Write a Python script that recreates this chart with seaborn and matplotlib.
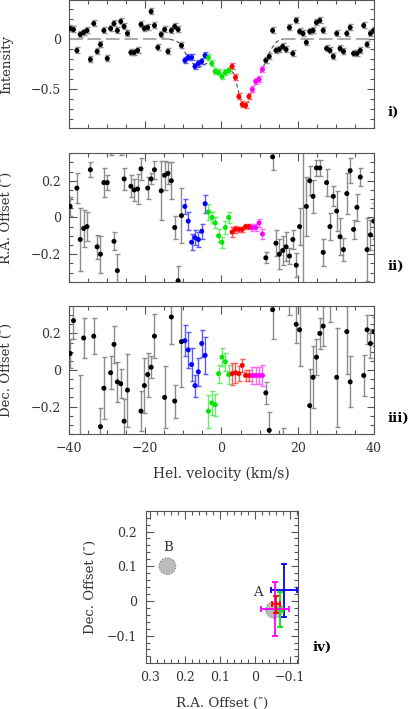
import numpy as np
import pandas as pd
import seaborn as sns
import matplotlib
matplotlib.use("Agg")
import matplotlib.pyplot as plt
from matplotlib.ticker import MultipleLocator, FuncFormatter
from matplotlib.patches import Circle

nan = np.nan

# velocity channels (km/s)
vel = [-39.70, -38.82, -37.93, -37.05, -36.16, -35.28, -34.39, -33.51, -32.62, -31.74,
       -30.85, -29.97, -29.08, -28.20, -27.31, -26.43, -25.54, -24.66, -23.77, -22.89,
       -22.00, -21.12, -20.23, -19.35, -18.46, -17.58, -16.69, -15.81, -14.92, -14.04,
       -13.15, -12.27, -11.38, -10.50, -9.61, -8.73, -7.84, -6.96, -6.07, -5.19,
       -4.30, -3.42, -2.53, -1.65, -0.76, 0.13, 1.01, 1.90, 2.78, 3.67,
       4.55, 5.44, 6.32, 7.21, 8.09, 8.98, 9.86, 10.75, 11.63, 12.52,
       13.40, 14.29, 15.17, 16.06, 16.94, 17.83, 18.71, 19.60, 20.48, 21.37,
       22.25, 23.14, 24.02, 24.91, 25.79, 26.68, 27.56, 28.45, 29.33, 30.22,
       31.10, 31.99, 32.87, 33.76, 34.64, 35.53, 36.41, 37.30, 38.18, 39.07,
       39.95]

# velocity component of each channel
comp = ['bg'] * 34 + ['b'] * 7 + ['g'] * 7 + ['r'] * 6 + ['m'] * 4 + ['bg'] * 33

intensity = [0.11, 0.10, -0.11, 0.05, 0.07, 0.09, -0.20, 0.16, -0.12, -0.05,
             0.09, -0.19, 0.11, 0.16, 0.09, 0.18, 0.13, 0.06, -0.13, -0.13,
             -0.11, 0.15, 0.11, 0.12, 0.28, 0.14, -0.08, 0.05, 0.10, -0.12,
             0.09, 0.13, 0.10, -0.06, -0.21, -0.18, -0.18, -0.27, -0.24, -0.22,
             -0.16, -0.18, -0.24, -0.32, -0.33, -0.37, -0.33, -0.31, -0.27, -0.38,
             -0.57, -0.65, -0.66, -0.57, -0.50, -0.42, -0.40, -0.30, -0.21, -0.17,
             0.09, -0.11, -0.10, -0.07, -0.10, 0.12, -0.14, 0.19, 0.08, 0.06,
             -0.03, 0.08, 0.09, 0.17, 0.19, 0.09, -0.09, -0.11, -0.17, 0.06,
             -0.09, -0.12, 0.06, 0.12, -0.14, -0.14, -0.11, 0.14, -0.05, 0.06,
             0.09]
intensity_err = [0.03] * 91

ra_off = [0.06, nan, 0.16, -0.12, -0.06, -0.05, 0.26, nan, -0.16, -0.20,
          0.19, 0.19, 0.42, -0.13, -0.29, 0.41, 0.21, nan, 0.17, 0.15,
          0.155, 0.265, nan, 0.16, 0.21, 0.26, nan, 0.145, 0.23, 0.24,
          0.20, -0.055, -0.345, 0.01, 0.06, -0.02, -0.135, -0.11, -0.12, -0.075,
          0.075, 0.03, 0.0, -0.03, -0.10, -0.135, -0.055, 0.0, -0.08, -0.065,
          -0.065, -0.065, -0.05, -0.05, -0.055, -0.055, -0.03, -0.09, -0.22, nan,
          0.33, -0.14, -0.20, -0.18, -0.16, -0.21, -0.12, -0.26, -0.05, 0.5,
          0.06, 0.20, 0.115, 0.27, 0.27, -0.19, 0.19, -0.05, 0.115, 0.035,
          -0.105, -0.175, 0.13, 0.255, -0.065, 0.055, 0.22, nan, -0.175, -0.095,
          -0.02]
ra_err = [0.05, nan, 0.08, 0.17, 0.10, 0.08, 0.04, nan, 0.065, 0.10,
          0.08, 0.04, 0.08, 0.05, 0.09, 0.07, 0.06, nan, 0.06, 0.06,
          0.08, 0.06, nan, 0.06, 0.03, 0.05, nan, 0.16, 0.08, 0.06,
          0.10, 0.065, 0.08, 0.15, 0.04, 0.05, 0.045, 0.04, 0.04, 0.04,
          0.05, 0.045, 0.03, 0.03, 0.035, 0.03, 0.035, 0.028, 0.028, 0.02,
          0.015, 0.015, 0.015, 0.015, 0.02, 0.02, 0.02, 0.025, 0.03, nan,
          0.07, 0.07, 0.08, 0.08, 0.08, 0.045, 0.05, 0.065, 0.10, 0.9,
          0.16, 0.08, 0.09, 0.045, 0.045, 0.075, 0.075, 0.075, 0.055, 0.11,
          0.10, 0.065, 0.11, 0.07, 0.05, 0.075, 0.05, nan, 0.17, 0.08,
          0.10]

dec_off = [0.09, 0.27, nan, -0.40, 0.175, nan, nan, 0.185, nan, -0.31,
           -0.10, nan, -0.015, 0.14, -0.065, -0.075, -0.28, -0.11, nan, nan,
           nan, -0.225, -0.085, -0.025, 0.015, 0.185, nan, nan, -0.15, nan,
           0.29, -0.17, nan, 0.155, 0.16, 0.11, 0.03, -0.085, -0.01, 0.145,
           0.08, -0.225, -0.18, -0.19, -0.02, 0.07, 0.045, -0.025, -0.02, -0.015,
           -0.02, 0.025, -0.03, -0.03, -0.03, -0.03, -0.03, -0.03, -0.125, -0.33,
           0.33, -0.45, nan, -0.42, nan, 0.45, nan, 0.25, 0.22, nan,
           nan, -0.195, -0.04, 0.07, 0.20, 0.24, nan, 0.50, nan, -0.04,
           nan, nan, 0.21, -0.065, nan, nan, nan, -0.03, 0.22, 0.145,
           0.21]
dec_err = [0.08, 0.10, nan, 0.37, 0.11, nan, nan, 0.10, nan, 0.10,
           0.17, nan, 0.09, 0.10, 0.11, 0.08, 0.12, 0.20, nan, nan,
           nan, 0.11, 0.15, 0.12, 0.06, 0.12, nan, nan, 0.17, nan,
           0.15, 0.09, nan, 0.25, 0.085, 0.10, 0.09, 0.06, 0.075, 0.075,
           0.10, 0.09, 0.065, 0.06, 0.05, 0.05, 0.05, 0.05, 0.06, 0.055,
           0.04, 0.035, 0.03, 0.03, 0.045, 0.045, 0.045, 0.055, 0.06, 0.10,
           0.16, 0.10, nan, 0.10, nan, 0.15, nan, 0.10, 0.20, nan,
           nan, 0.20, 0.17, 0.10, 0.085, 0.11, nan, 0.24, nan, 0.27,
           nan, nan, 0.23, 0.14, nan, nan, nan, 0.11, 0.08, 0.08,
           0.08]

# fitted absorption profile
model_vel = [-13.5, -12, -11, -10, -9, -8, -7, -6, -5, -4, -3, -2, -1, 0, 1, 2,
             3, 4, 5, 6, 7, 8, 9, 10, 11, 12, 13, 14, 15, 16]
model_int = [0, -0.01, -0.04, -0.10, -0.17, -0.22, -0.26, -0.28, -0.27, -0.24,
             -0.24, -0.28, -0.32, -0.34, -0.33, -0.30, -0.33, -0.45, -0.60, -0.67,
             -0.62, -0.52, -0.43, -0.35, -0.27, -0.18, -0.10, -0.04, -0.01, 0]
cont_left = [-40, -13.5]
cont_right = [16, 40]

# mean positions of the components (panel iv)
comp_names = ['b', 'g', 'm', 'r']
comp_ra = [-0.083, -0.072, -0.057, -0.060]
comp_dec = [0.030, -0.025, -0.024, -0.010]
comp_ra_err = [0.037, 0.008, 0.039, 0.011]
comp_dec_err = [0.075, 0.050, 0.078, 0.024]
star_names = ['A', 'B']
star_ra = [-0.055, 0.250]
star_dec = [-0.026, 0.100]
star_label_ra = [-0.009, 0.249]
star_label_dec = [0.024, 0.153]

palette = {'bg': 'black', 'b': '#0000ff', 'g': '#00e600', 'r': '#ff0000', 'm': '#ff00ff'}
err_colors = {'bg': '#8c8c8c', 'b': '#5a5aff', 'g': '#66ee66', 'r': '#ff5a5a', 'm': '#ff66ff'}

df = pd.DataFrame({'vel': vel, 'comp': comp, 'intensity': intensity,
                   'intensity_err': intensity_err, 'ra': ra_off, 'ra_err': ra_err,
                   'dec': dec_off, 'dec_err': dec_err})

sns.set_theme(style="ticks")
plt.rcParams['font.family'] = ['DejaVu Serif', 'DejaVu Sans']
plt.rcParams['font.size'] = 9
plt.rcParams['text.color'] = '#333333'
plt.rcParams['axes.labelcolor'] = '#333333'

frame_col = '#555555'


def tick_fmt(x, pos):
    s = '%g' % round(x, 6)
    if s == '-0':
        s = '0'
    return s.replace('-', '\u2212')


def style_axes(ax, xmaj, xmin, ymaj, ymin):
    ax.xaxis.set_major_locator(MultipleLocator(xmaj))
    ax.xaxis.set_minor_locator(MultipleLocator(xmin))
    ax.yaxis.set_major_locator(MultipleLocator(ymaj))
    ax.yaxis.set_minor_locator(MultipleLocator(ymin))
    ax.xaxis.set_major_formatter(FuncFormatter(tick_fmt))
    ax.yaxis.set_major_formatter(FuncFormatter(tick_fmt))
    ax.tick_params(which='both', direction='in', top=True, right=True,
                   color=frame_col, labelcolor='#333333', labelsize=9)
    ax.tick_params(which='major', length=5.4, width=0.8, pad=6)
    ax.tick_params(which='minor', length=2.9, width=0.8)
    for sp in ax.spines.values():
        sp.set_color(frame_col)
        sp.set_linewidth(0.8)


def velocity_panel(ax, col, errcol, ylabel, tag):
    for c in palette:
        sub = df[(df['comp'] == c) & df[col].notna()]
        ax.errorbar(sub['vel'], sub[col], yerr=sub[errcol], fmt='none',
                    ecolor=err_colors[c], elinewidth=1.0, capsize=1.8,
                    capthick=1.0, zorder=2)
    sns.scatterplot(data=df, x='vel', y=col, hue='comp', palette=palette, s=13,
                    linewidth=0, legend=False, ax=ax, zorder=3)
    ax.set_xlim(-40, 40)
    ax.set_xlabel('')
    ax.set_ylabel(ylabel, fontsize=9.5)
    ax.yaxis.set_label_coords(-0.184, 0.5)
    ax.text(1.045, 0.12, tag, transform=ax.transAxes, fontsize=9.5,
            fontweight='bold', color='black', va='center', ha='left')


fig = plt.figure(figsize=(4.09, 7.09), dpi=100)
ax1 = fig.add_axes([0.1687, 0.8195, 0.7457, 0.1798])
ax2 = fig.add_axes([0.1687, 0.6027, 0.7457, 0.1812])
ax3 = fig.add_axes([0.1687, 0.3879, 0.7457, 0.1805])
ax4 = fig.add_axes([0.3562, 0.0649, 0.3716, 0.2148])

# i) intensity
ax1.plot(cont_left, [0, 0], color='#aaaaaa', lw=1.4, dashes=(7, 2.5), zorder=1)
ax1.plot(cont_right, [0, 0], color='#aaaaaa', lw=1.4, dashes=(7, 2.5), zorder=1)
ax1.plot(model_vel, model_int, color='#333333', lw=0.7, dashes=(4, 3), zorder=1)
velocity_panel(ax1, 'intensity', 'intensity_err', 'Intensity', 'i)')
ax1.set_ylim(-0.885, 0.39)
style_axes(ax1, 20, 5, 0.5, 0.1)
ax1.tick_params(labelbottom=False)

# ii) R.A. offset
velocity_panel(ax2, 'ra', 'ra_err', 'R.A. Offset (\u2033)', 'ii)')
ax2.set_ylim(-0.35, 0.35)
style_axes(ax2, 20, 5, 0.2, 0.05)
ax2.tick_params(labelbottom=False)

# iii) Dec. offset
velocity_panel(ax3, 'dec', 'dec_err', 'Dec. Offset (\u2033)', 'iii)')
ax3.set_ylim(-0.35, 0.35)
style_axes(ax3, 20, 5, 0.2, 0.05)
ax3.set_xlabel('Hel. velocity (km/s)', fontsize=10)
ax3.xaxis.set_label_coords(0.5, -0.255)

# iv) positions on the sky
for name, x, y in zip(star_names, star_ra, star_dec):
    ax4.add_patch(Circle((x, y), 0.024, facecolor='#bbbbbb', edgecolor='#777777',
                         linestyle=':', lw=0.8, zorder=1))
for name, x, y in zip(star_names, star_label_ra, star_label_dec):
    ax4.text(x, y, name, ha='center', va='center', fontsize=9.5, color='#333333')
for name, x, y, xe, ye in zip(comp_names, comp_ra, comp_dec, comp_ra_err, comp_dec_err):
    ax4.errorbar(x, y, xerr=xe, yerr=ye, fmt='none', ecolor=palette[name],
                 elinewidth=1.3, capsize=2.2, capthick=1.3, zorder=2)
ax4.set_xlim(0.312, -0.122)
ax4.set_ylim(-0.179, 0.26)
style_axes(ax4, 0.1, 0.02, 0.1, 0.02)
ax4.set_xlabel('R.A. Offset (\u2033)', fontsize=9.5)
ax4.set_ylabel('Dec. Offset (\u2033)', fontsize=9.5)
ax4.xaxis.set_label_coords(0.5, -0.222)
ax4.yaxis.set_label_coords(-0.318, 0.5)
ax4.text(1.10, 0.10, 'iv)', transform=ax4.transAxes, fontsize=9.5,
         fontweight='bold', color='black', va='center', ha='left')

fig.savefig('out.png', dpi=100)
